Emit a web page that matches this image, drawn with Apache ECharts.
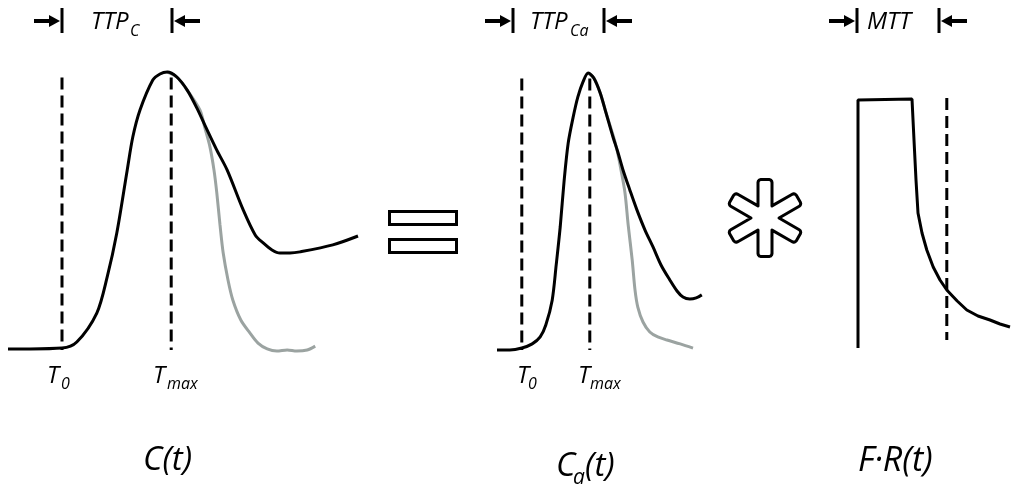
<!DOCTYPE html>
<html>
<head>
<meta charset="utf-8">
<title>C(t) = Ca(t) * F·R(t)</title>
<style>html,body{margin:0;background:#fff;}</style>
</head>
<body>
<div id="main" style="width:1011px;height:488px;"></div>
<script src="https://cdn.jsdelivr.net/npm/echarts@6/dist/echarts.min.js"></script>
<script>
// [time (s), normalised concentration]
// tissue curve C(t), with recirculation
var tissueCurve = [[0,0.004],[2.75,0.004],[6.75,0.007],[8.6,0.029],[11.1,0.133],[12.4,0.263],[13.6,0.421],
    [14.9,0.647],[15.6,0.766],[16.5,0.863],[18.1,0.971],[19,0.993],[19.9,1],[21.1,0.982],[22.4,0.935],
    [23.6,0.871],[24.9,0.791],[26.1,0.719],[27.4,0.647],[29.4,0.504],[30.9,0.414],[31.9,0.385],[33,0.36],
    [34,0.349],[35.25,0.349],[36.5,0.353],[40.6,0.378],[43.75,0.41]];
// tissue curve, first pass only (grey)
var tissueFirstPass = [[19.9,1],[21.1,0.982],[22.4,0.935],[24,0.863],[24.6,0.8],[25.25,0.73],[25.75,0.647],
    [26.1,0.565],[26.5,0.45],[26.9,0.349],[27.5,0.252],[28.1,0.18],[29.1,0.108],[30.25,0.061],[31.25,0.025],
    [32.4,0.004],[33.6,-0.004],[34.9,0],[36.1,-0.004],[37.4,0],[38.4,0.014]];
// arterial input Ca(t)
var arterialCurve = [[0,0],[1.6,0],[3.1,0.007],[4.4,0.022],[5.4,0.047],[6.1,0.09],[6.9,0.18],[7.4,0.307],
    [7.9,0.444],[8.4,0.614],[8.9,0.747],[9.5,0.838],[10.1,0.913],[10.75,0.968],[11.4,1],[12.1,0.982],
    [12.9,0.928],[13.6,0.859],[14.5,0.769],[15.1,0.715],[15.75,0.65],[16.6,0.578],[17.5,0.505],[18.5,0.433],
    [19.5,0.372],[20.5,0.307],[21.6,0.253],[22.5,0.213],[23.25,0.191],[24.1,0.184],[24.9,0.188],[25.6,0.199]];
var arterialFirstPass = [[11.4,1],[12.1,0.982],[12.9,0.928],[13.6,0.859],[14.5,0.776],[15,0.722],[15.5,0.65],
    [16,0.567],[16.4,0.451],[16.9,0.325],[17.25,0.217],[17.6,0.155],[18.25,0.101],[19.1,0.065],[20.1,0.047],
    [21.25,0.036],[22.9,0.022],[24.5,0.007]];
// residue function F·R(t)
var residueCurve = [[1,0.008],[1,1],[7.75,1.004],[8,0.84],[8.25,0.68],[8.5,0.548],[9,0.468],[9.6,0.4],
    [10.4,0.332],[11.25,0.28],[12.1,0.24],[13.4,0.196],[14.6,0.16],[16,0.136],[17.5,0.12],[18.75,0.104],[20,0.092]];

// dashed marker times per panel, and their vertical span
var tissueMarks = [6.75, 20.4];      // T0, Tmax
var arterialMarks = [3.1, 11.6];     // T0, Tmax
var residueMarks = [12.1];           // end of MTT
var markSpan = [0.98, 0];
var residueSpan = [1.008, 0.04];

var FONT = '"Open Sans", "DejaVu Sans", sans-serif';
var GREY = '#9ba3a1';

var myChart = echarts.init(document.getElementById('main'));

function curve(name, data, grid, color, smooth) {
    return {
        name: name, type: 'line', xAxisIndex: grid, yAxisIndex: grid,
        data: data, symbol: 'none', smooth: smooth, clip: false, silent: true,
        lineStyle: {color: color, width: 3}
    };
}
function dashes(times, span, grid) {
    return times.map(function (t) {
        return {
            type: 'line', xAxisIndex: grid, yAxisIndex: grid, symbol: 'none', clip: false, silent: true,
            data: [[t, span[0]], [t, span[1]]],
            lineStyle: {color: '#000', width: 3, type: [12, 6]}
        };
    });
}

// annotation helpers
function label(x, y, text, size) {
    return {
        type: 'text', x: x, y: y, silent: true,
        style: {
            text: text, font: 'italic ' + size + 'px ' + FONT, fill: '#000',
            align: 'left', verticalAlign: 'middle', textAlign: 'left', textVerticalAlign: 'middle'
        }
    };
}
function bracket(xl, xr) {
    var y = 21, els = [];
    [[xl, -1], [xr, 1]].forEach(function (b) {
        var x = b[0], d = b[1];
        els.push({type: 'line', shape: {x1: x, y1: 8, x2: x, y2: 33}, style: {stroke: '#000', lineWidth: 3}});
        els.push({type: 'line', shape: {x1: x + d * 12, y1: y, x2: x + d * 28, y2: y}, style: {stroke: '#000', lineWidth: 4}});
        els.push({type: 'polygon', shape: {points: [[x + d * 2, y], [x + d * 13, y - 6], [x + d * 13, y + 6]]}, style: {fill: '#000'}});
    });
    return els;
}
// six-armed outline asterisk, arms with slightly rounded square tips
function asterisk(cx, cy, R, w, r) {
    var pts = [], rad = Math.PI / 180;
    function P(th, along, side) {
        return [cx + along * Math.cos(th) - side * Math.sin(th), cy + along * Math.sin(th) + side * Math.cos(th)];
    }
    for (var k = 0; k < 6; k++) {
        var th = (-90 + 60 * k) * rad;
        pts.push([cx + 2 * w * Math.cos(th - 30 * rad), cy + 2 * w * Math.sin(th - 30 * rad)]);
        // corner on the -side, then corner on the +side
        [[-1, -90, 0], [1, 0, 90]].forEach(function (c) {
            var ctr = P(th, R - r, c[0] * (w - r));
            for (var a = c[1]; a <= c[2]; a += 30) {
                pts.push([ctr[0] + r * Math.cos(th + a * rad), ctr[1] + r * Math.sin(th + a * rad)]);
            }
        });
    }
    return {type: 'polygon', shape: {points: pts}, style: {fill: '#fff', stroke: '#000', lineWidth: 3, lineJoin: 'round'}};
}

var graphics = [].concat(
    bracket(62, 172), bracket(513, 604), bracket(857, 939),
    [
        label(91, 22, 'TTP', 24), label(130, 31, 'C', 16),
        label(530, 22, 'TTP', 24), label(570, 31, 'Ca', 16),
        label(867, 22, 'MTT', 24),
        label(47, 376, 'T', 24), label(61, 384, '0', 16),
        label(153, 376, 'T', 24), label(167, 384, 'max', 16),
        label(517, 376, 'T', 24), label(528, 384, '0', 16),
        label(578, 376, 'T', 24), label(590, 384, 'max', 16),
        label(143, 461, 'C(t)', 33),
        label(556, 467, 'C', 33), label(573, 478, 'a', 21), label(585, 467, '(t)', 33),
        label(858, 461, 'F·R(t)', 34),
        {type: 'rect', shape: {x: 389.5, y: 211.5, width: 67, height: 13}, style: {fill: '#fff', stroke: '#000', lineWidth: 3}},
        {type: 'rect', shape: {x: 389.5, y: 239.5, width: 67, height: 13}, style: {fill: '#fff', stroke: '#000', lineWidth: 3}},
        asterisk(765, 218, 38.5, 7, 3)
    ]
);

var hidden = {show: false};
var option = {
    animation: false,
    backgroundColor: '#fff',
    grid: [
        {left: 8, top: 72, width: 352, height: 278},
        {left: 497, top: 73, width: 208, height: 277},
        {left: 850, top: 100, width: 160, height: 250}
    ],
    xAxis: [
        {type: 'value', gridIndex: 0, min: 0, max: 44, show: false, splitLine: hidden},
        {type: 'value', gridIndex: 1, min: 0, max: 26, show: false, splitLine: hidden},
        {type: 'value', gridIndex: 2, min: 0, max: 20, show: false, splitLine: hidden}
    ],
    yAxis: [
        {type: 'value', gridIndex: 0, min: 0, max: 1, show: false, splitLine: hidden},
        {type: 'value', gridIndex: 1, min: 0, max: 1, show: false, splitLine: hidden},
        {type: 'value', gridIndex: 2, min: 0, max: 1, show: false, splitLine: hidden}
    ],
    series: [
        curve('C first pass', tissueFirstPass, 0, GREY, 0.3),
        curve('C(t)', tissueCurve, 0, '#000', 0.3),
        curve('Ca first pass', arterialFirstPass, 1, GREY, 0.3),
        curve('Ca(t)', arterialCurve, 1, '#000', 0.3),
        curve('F·R(t)', residueCurve, 2, '#000', false)
    ].concat(dashes(tissueMarks, markSpan, 0), dashes(arterialMarks, markSpan, 1), dashes(residueMarks, residueSpan, 2)),
    graphic: {elements: graphics}
};
myChart.setOption(option);
</script>
</body>
</html>
